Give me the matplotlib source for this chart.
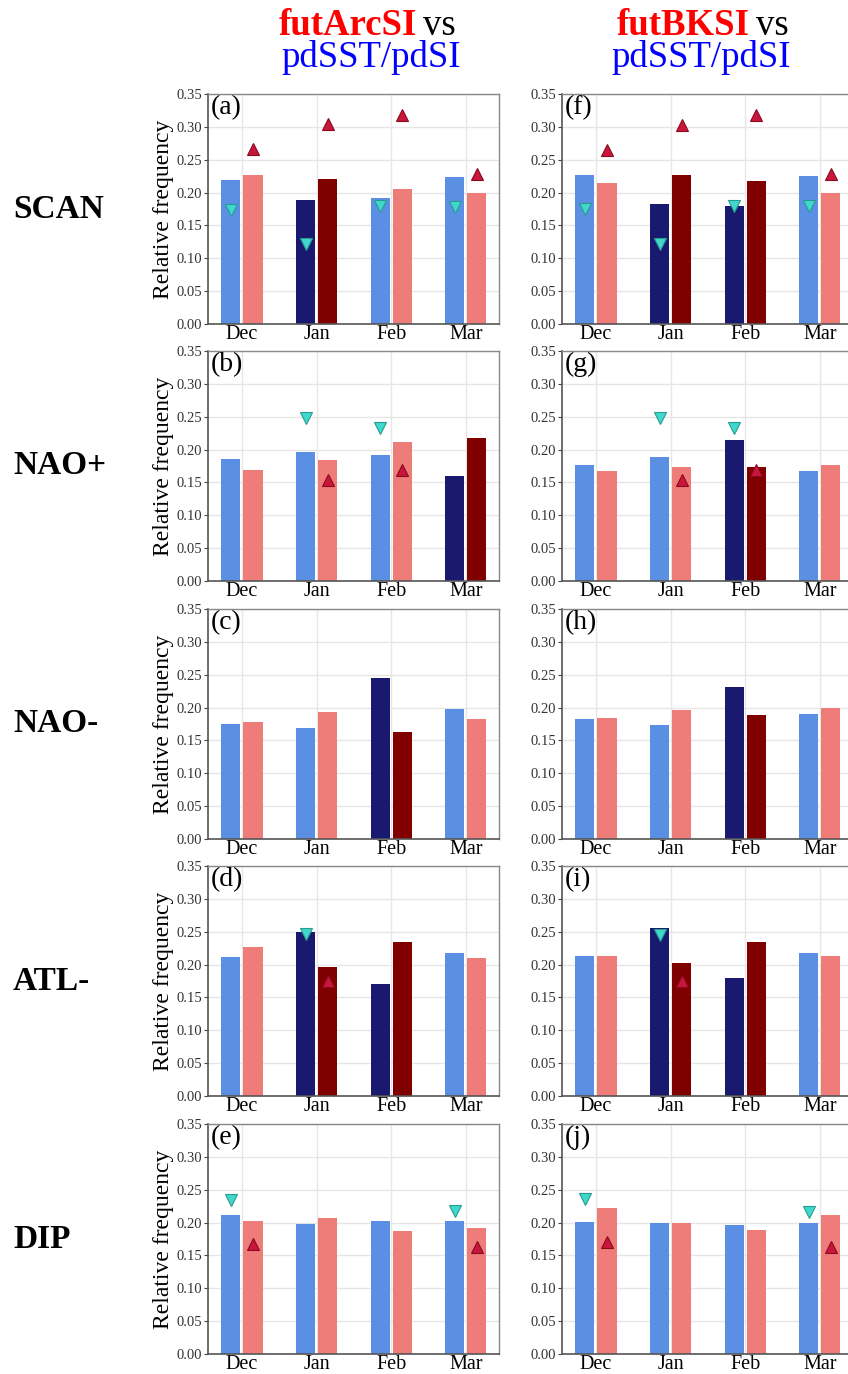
import numpy as np
import matplotlib.pyplot as plt

plt.rcParams['font.family'] = ['Liberation Serif', 'DejaVu Serif']

months = ['Dec', 'Jan', 'Feb', 'Mar']
regimes = ['SCAN', 'NAO+', 'NAO-', 'ATL-', 'DIP']
nan = np.nan

# left column: futArcSI vs pdSST/pdSI
arc_fut = [
  [0.219, 0.189, 0.191, 0.224],
  [0.186, 0.197, 0.192, 0.160],
  [0.175, 0.169, 0.245, 0.198],
  [0.211, 0.249, 0.171, 0.217],
  [0.211, 0.198, 0.202, 0.202],
]
arc_pd = [
  [0.226, 0.221, 0.205, 0.200],
  [0.169, 0.184, 0.211, 0.217],
  [0.178, 0.193, 0.163, 0.183],
  [0.226, 0.197, 0.235, 0.210],
  [0.202, 0.207, 0.187, 0.191],
]
arc_sig = [
  [0, 1, 0, 0],
  [0, 0, 0, 1],
  [0, 0, 1, 0],
  [0, 1, 1, 0],
  [0, 0, 0, 0],
]
arc_low = [
  [0.174, 0.122, 0.179, 0.178],
  [nan, 0.248, 0.233, nan],
  [nan, nan, nan, nan],
  [nan, 0.246, nan, nan],
  [0.235, nan, nan, 0.217],
]
arc_high = [
  [0.266, 0.304, 0.318, 0.229],
  [nan, 0.154, 0.169, nan],
  [nan, nan, nan, nan],
  [nan, 0.175, nan, nan],
  [0.168, nan, nan, 0.163],
]

# right column: futBKSI vs pdSST/pdSI
bk_fut = [
  [0.226, 0.183, 0.180, 0.225],
  [0.177, 0.189, 0.215, 0.168],
  [0.183, 0.173, 0.232, 0.190],
  [0.213, 0.256, 0.180, 0.218],
  [0.201, 0.200, 0.196, 0.199],
]
bk_pd = [
  [0.214, 0.227, 0.218, 0.199],
  [0.168, 0.174, 0.173, 0.176],
  [0.184, 0.196, 0.188, 0.200],
  [0.213, 0.203, 0.234, 0.213],
  [0.222, 0.200, 0.188, 0.211],
]
bk_sig = [
  [0, 1, 1, 0],
  [0, 0, 1, 0],
  [0, 0, 1, 0],
  [0, 1, 1, 0],
  [0, 0, 0, 0],
]
bk_low = [
  [0.175, 0.122, 0.179, 0.179],
  [nan, 0.248, 0.233, nan],
  [nan, nan, nan, nan],
  [nan, 0.245, nan, nan],
  [0.236, nan, nan, 0.216],
]
bk_high = [
  [0.265, 0.303, 0.318, 0.228],
  [nan, 0.154, 0.169, nan],
  [nan, nan, nan, nan],
  [nan, 0.175, nan, nan],
  [0.170, nan, nan, 0.163],
]

columns = [
  ('futArcSI', arc_fut, arc_pd, arc_sig, arc_low, arc_high, 'abcde'),
  ('futBKSI', bk_fut, bk_pd, bk_sig, bk_low, bk_high, 'fghij'),
]

W, H = 848, 1374
fig = plt.figure(figsize=(W / 100, H / 100), dpi=100)

col_left = [208, 562]
ax_w = 291
ax_h = 230
row_top = [94, 351, 609, 866, 1124]
off = 0.148
bw = 0.255
x = np.arange(len(months))

for c, (name, fut, pd_, sig, low, high, letters) in enumerate(columns):
  for r in range(len(regimes)):
    ax = fig.add_axes([col_left[c] / W, 1 - (row_top[r] + ax_h) / H, ax_w / W, ax_h / H])
    ax.set_axisbelow(True)
    ax.grid(True, color='#e6e6e6', linewidth=1.0)

    blue = ['#191970' if s else '#5b8fe3' for s in sig[r]]
    red = ['#800000' if s else '#ee7d7a' for s in sig[r]]
    ax.bar(x - off, fut[r], width=bw, color=blue)
    ax.bar(x + off, pd_[r], width=bw, color=red)

    ax.plot(x - off, low[r], 'v', ms=9, mfc='#40d8cc', mec='#2a9a90', mew=0.8, ls='none')
    ax.plot(x + off, high[r], '^', ms=9, mfc='#c8163c', mec='#8b0a1e', mew=0.8, ls='none')

    ax.set_xlim(-0.455, 3.445)
    ax.set_ylim(0, 0.35)
    ax.set_yticks(np.arange(0, 0.351, 0.05))
    ax.set_yticklabels([f'{v:.2f}' for v in np.arange(0, 0.351, 0.05)], fontsize=10.5)
    ax.set_xticks(x)
    ax.set_xticklabels(months, fontsize=14.5)
    ax.tick_params(axis='x', length=0, pad=1)
    ax.tick_params(axis='y', length=3, width=0.8, pad=1, colors='#444444', labelcolor='#333333')
    for side in ['left', 'bottom']:
      ax.spines[side].set_color('#555555')
      ax.spines[side].set_linewidth(1.2)
    for side in ['top', 'right']:
      ax.spines[side].set_color('#888888')
      ax.spines[side].set_linewidth(1.0)

    ax.text(0.01, 0.995, f'({letters[r]})', transform=ax.transAxes, fontsize=20,
            ha='left', va='top')
    if c == 0:
      ax.set_ylabel('Relative frequency', fontsize=17, labelpad=2)

# column titles
splits = [417, 750]
centers = [371, 701]
for c, (name, *_rest) in enumerate(columns):
  fig.text(splits[c] / W, 1 - 35 / H, name, color='red', fontweight='bold',
           fontsize=26.5, ha='right', va='baseline')
  fig.text(splits[c] / W + 6 / W, 1 - 35 / H, 'vs', color='black',
           fontsize=26.5, ha='left', va='baseline')
  fig.text(centers[c] / W, 1 - 67 / H, 'pdSST/pdSI', color='blue',
           fontsize=26.5, ha='center', va='baseline')

# regime labels
for r, lab in enumerate(regimes):
  fig.text(13 / W, 1 - (row_top[r] + ax_h / 2) / H, lab, fontsize=24,
           fontweight='bold', ha='left', va='center')

fig.savefig('out.png', dpi=100)
